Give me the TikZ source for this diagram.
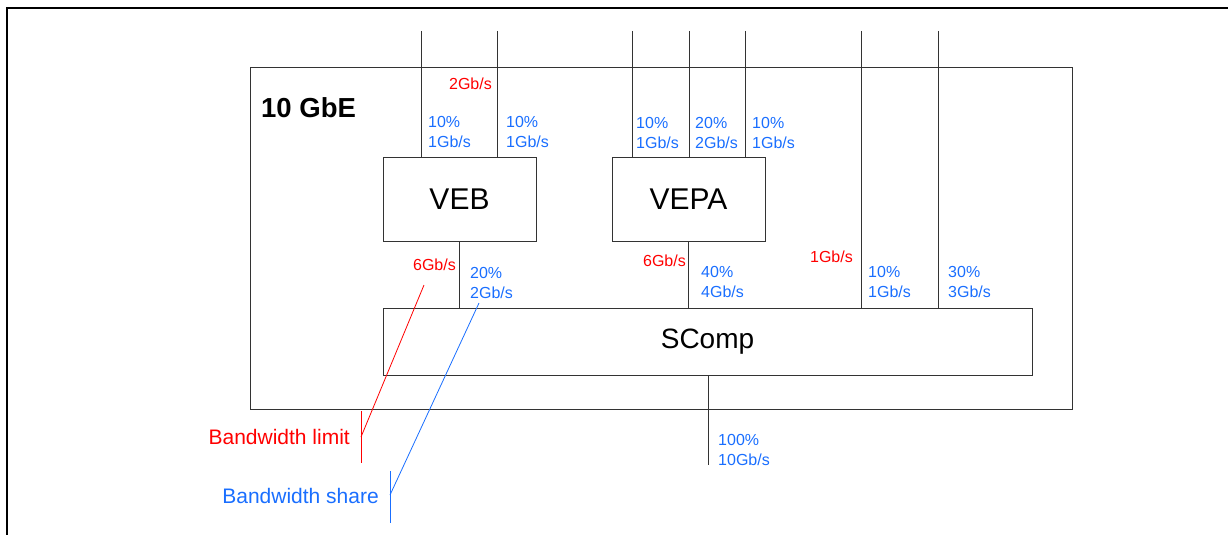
\documentclass[tikz,border=0pt]{standalone}
\usepackage{fontspec}
\setmainfont{Liberation Sans}
\usetikzlibrary{calc}
\definecolor{LimitClr}{rgb}{1,0,0}
\definecolor{ShareClr}{rgb}{0.1,0.43,1}
\definecolor{WireClr}{rgb}{0.2,0.2,0.2}

\begin{document}
\begin{tikzpicture}[x=1pt,y=-1pt,
  wire/.style={line width=0.9pt,color=WireClr},
  unitbox/.style={draw,line width=0.9pt,color=WireClr,text=black,inner sep=0pt},
  share/.style={color=ShareClr,font=\fontsize{16}{20}\selectfont,align=left,anchor=north west,inner sep=0pt},
  limit/.style={color=LimitClr,font=\fontsize{16}{20}\selectfont,anchor=base east,inner sep=0pt},
  legend/.style={font=\fontsize{21}{25}\selectfont,anchor=base east,inner sep=0pt}]
\useasboundingbox (0,0) rectangle (1228,535);

% frame
\draw[line width=2.5pt] (7,535) -- (7,8) -- (1228,8);

% boxes
\node[unitbox,minimum width=822pt,minimum height=342pt] (gbe) at (661,238) {};
\node[font=\bfseries\fontsize{27.5}{31}\selectfont,anchor=base west,inner sep=0pt] (gbetxt) at (261,117) {10 GbE};
\node[unitbox,minimum width=153pt,minimum height=84pt,font=\fontsize{30}{34}\selectfont] (veb) at (459.5,199) {VEB};
\node[unitbox,minimum width=153pt,minimum height=84pt,font=\fontsize{30}{34}\selectfont] (vepa) at (688.5,199) {VEPA};
\node[unitbox,minimum width=649pt,minimum height=67pt,font=\fontsize{28}{32}\selectfont] (scomp) at (707.5,342) {SComp};

% ports
\coordinate (vA) at (421,31);
\coordinate (vB) at (497,31);
\coordinate (pA) at (632,31);
\coordinate (pB) at (689,31);
\coordinate (pC) at (745,31);
\coordinate (sA) at (861,31);
\coordinate (sB) at (938,31);
\coordinate (up) at (708,465);

\draw[wire] (vA) -- (vA |- veb.north);
\draw[wire] (vB) -- (vB |- veb.north);
\draw[wire] (pA) -- (pA |- vepa.north);
\draw[wire] (pB) -- (pB |- vepa.north);
\draw[wire] (pC) -- (pC |- vepa.north);
\draw[wire] (sA) -- (sA |- scomp.north);
\draw[wire] (sB) -- (sB |- scomp.north);
\draw[wire] (veb.south) -- (veb.south |- scomp.north);
\draw[wire] (vepa.south) -- (vepa.south |- scomp.north);
\draw[wire] (up |- scomp.south) -- (up);

% shares and limits
\node[limit] (lvB) at (492,89) {2Gb/s};
\node[share] (svA) at (428,116) {10\%\\1Gb/s};
\node[share] (svB) at (506,116) {10\%\\1Gb/s};
\node[share] (spA) at (636,117) {10\%\\1Gb/s};
\node[share] (spB) at (695,117) {20\%\\2Gb/s};
\node[share] (spC) at (752,117) {10\%\\1Gb/s};
\node[limit] (lveb) at (456,270) {6Gb/s};
\node[share] (sveb) at (470,267) {20\%\\2Gb/s};
\node[limit] (lvepa) at (686,266) {6Gb/s};
\node[share] (svepa) at (701,266) {40\%\\4Gb/s};
\node[limit] (lsA) at (853,262) {1Gb/s};
\node[share] (ssA) at (868,266) {10\%\\1Gb/s};
\node[share] (ssB) at (948,266) {30\%\\3Gb/s};
\node[share] (sup) at (718,434) {100\%\\10Gb/s};

% legend
\node[legend,color=LimitClr] (limtxt) at (350,444) {Bandwidth limit};
\node[legend,color=ShareClr] (sharetxt) at (379,503) {Bandwidth share};
\coordinate (limtip) at (424,285);
\coordinate (limjoin) at (361,437);
\coordinate (sharetip) at (479,303);
\coordinate (sharejoin) at (390,495);
\draw[LimitClr,line width=0.8pt] (limjoin |- gbe.south) ++(0,2) -- (361,463);
\draw[LimitClr,line width=0.8pt] (limtip) -- (limjoin);
\draw[ShareClr,line width=0.8pt] (390,471) -- (390,523);
\draw[ShareClr,line width=0.8pt] (sharetip) -- (sharejoin);
\end{tikzpicture}
\end{document}
